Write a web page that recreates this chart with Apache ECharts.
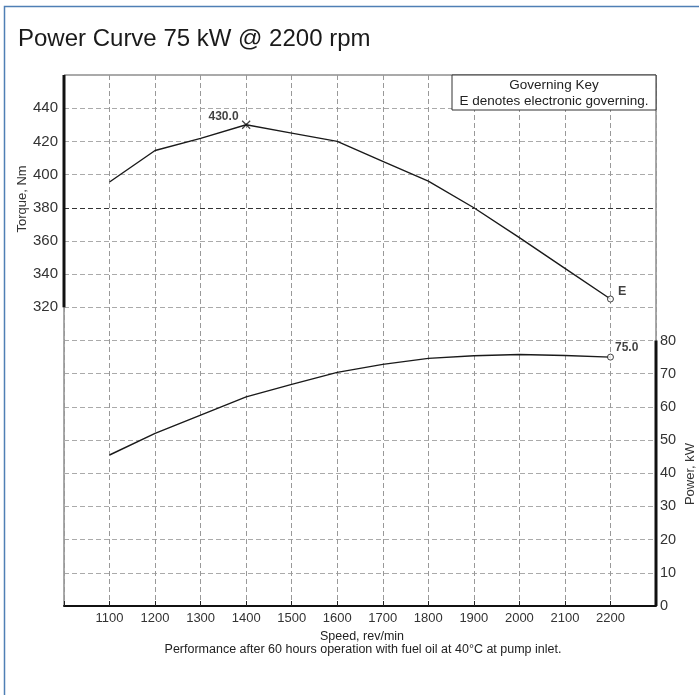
<!DOCTYPE html>
<html>
<head>
<meta charset="utf-8">
<script src="https://cdn.jsdelivr.net/npm/echarts@6/dist/echarts.min.js"></script>
<style>
html,body{margin:0;padding:0;background:#fff;}
#chart{width:699px;height:695px;}
</style>
</head>
<body>
<div id="chart"></div>
<script>
// ---- data ----
const speed  = [1100, 1200, 1300, 1400, 1500, 1600, 1700, 1800, 1900, 2000, 2100, 2200];
const torque = [395.5, 414.5, 421.8, 430.0, 425.0, 420.0, 408.0, 396.0, 380.0, 362.0, 343.5, 325.0];
const power  = [45.5, 52.0, 57.5, 63.0, 66.8, 70.4, 72.8, 74.6, 75.4, 75.8, 75.5, 75.0];
const speedTicks  = [1100, 1200, 1300, 1400, 1500, 1600, 1700, 1800, 1900, 2000, 2100, 2200];
const torqueTicks = [320, 340, 360, 380, 400, 420, 440];
const powerTicks  = [0, 10, 20, 30, 40, 50, 60, 70, 80];

const FONT = '"Liberation Sans", Arial, Helvetica, sans-serif';
const X_MIN = 1000, X_MAX = 2300;
const T_MIN = 140, T_MAX = 460;
const P_MIN = 0, P_MAX = 160;

const peakIdx = torque.indexOf(Math.max(...torque));
const lastIdx = speed.length - 1;

const chart = echarts.init(document.getElementById('chart'), null, {renderer: 'canvas'});
const gridDash = [5, 3];

chart.setOption({
  animation: false,
  backgroundColor: '#fff',
  textStyle: {fontFamily: FONT},
  grid: {left: 64, right: 43, top: 75, bottom: 89, show: true, borderColor: '#555', borderWidth: 1, backgroundColor: 'transparent'},
  xAxis: {
    type: 'value', min: X_MIN, max: X_MAX, interval: 100,
    axisLine: {show: true, onZero: false, lineStyle: {color: '#111', width: 2}},
    axisTick: {show: true, inside: true, length: 5, lineStyle: {color: '#222', width: 1}},
    axisLabel: {fontSize: 13, color: '#333', margin: 6, fontFamily: FONT,
      formatter: v => speedTicks.indexOf(v) >= 0 ? String(v) : ''},
    splitLine: {show: true, lineStyle: {color: '#999', type: gridDash, width: 1}}
  },
  yAxis: [
    {
      type: 'value', min: T_MIN, max: T_MAX, interval: 20, position: 'left',
      axisLine: {show: false}, axisTick: {show: false},
      axisLabel: {fontSize: 15, color: '#333', margin: 6, fontFamily: FONT,
        formatter: v => torqueTicks.indexOf(v) >= 0 ? String(v) : ''},
      splitLine: {show: true, lineStyle: {color: '#aaa', type: gridDash, width: 1}}
    },
    {
      type: 'value', min: P_MIN, max: P_MAX, interval: 10, position: 'right',
      axisLine: {show: false}, axisTick: {show: false},
      axisLabel: {fontSize: 14.5, color: '#333', margin: 4, fontFamily: FONT,
        formatter: v => powerTicks.indexOf(v) >= 0 ? String(v) : ''},
      splitLine: {show: false}
    }
  ],
  series: [
    {
      type: 'line', yAxisIndex: 0, symbol: 'none', silent: true, z: 3,
      data: speed.map((s, i) => [s, torque[i]]),
      lineStyle: {color: '#1a1a1a', width: 1.4},
      markLine: {
        silent: true, symbol: 'none', label: {show: false},
        lineStyle: {color: '#333', type: gridDash, width: 1},
        data: [{yAxis: torqueTicks[3]}]
      }
    },
    {
      type: 'line', yAxisIndex: 1, symbol: 'none', silent: true, z: 3,
      data: speed.map((s, i) => [s, power[i]]),
      lineStyle: {color: '#1a1a1a', width: 1.4}
    },
    // thick axis segments
    {
      type: 'line', yAxisIndex: 0, symbol: 'none', silent: true, clip: false, z: 5,
      data: [[X_MIN, torqueTicks[0]], [X_MIN, T_MAX]],
      lineStyle: {color: '#111', width: 3}
    },
    {
      type: 'line', yAxisIndex: 1, symbol: 'none', silent: true, clip: false, z: 5,
      data: [[X_MAX, powerTicks[0]], [X_MAX, powerTicks[powerTicks.length - 1]]],
      lineStyle: {color: '#111', width: 3}
    },
    // peak torque marker
    {
      type: 'scatter', yAxisIndex: 0, silent: true, z: 6,
      symbol: 'path://M0 0L10 10M10 0L0 10', symbolSize: 8,
      itemStyle: {color: 'transparent', borderColor: '#111', borderWidth: 1.2},
      data: [[speed[peakIdx], torque[peakIdx]]],
      label: {show: true, position: 'left', distance: 3, offset: [0, -8],
        formatter: p => p.value[1].toFixed(1), fontSize: 12, fontWeight: 'bold', color: '#111', fontFamily: FONT}
    },
    // rated torque marker
    {
      type: 'scatter', yAxisIndex: 0, silent: true, z: 6,
      symbol: 'circle', symbolSize: 6,
      itemStyle: {color: '#fff', borderColor: '#111', borderWidth: 1},
      data: [[speed[lastIdx], torque[lastIdx]]],
      label: {show: true, position: 'right', distance: 4, offset: [0, -7],
        formatter: 'E', fontSize: 12.5, fontWeight: 'bold', color: '#111', fontFamily: FONT}
    },
    // rated power marker
    {
      type: 'scatter', yAxisIndex: 1, silent: true, z: 6,
      symbol: 'circle', symbolSize: 6,
      itemStyle: {color: '#fff', borderColor: '#111', borderWidth: 1},
      data: [[speed[lastIdx], power[lastIdx]]],
      label: {show: true, position: 'right', distance: 1, offset: [0, -9],
        formatter: p => p.value[1].toFixed(1), fontSize: 12, fontWeight: 'bold', color: '#111', fontFamily: FONT}
    }
  ],
  graphic: [
    {type: 'rect', silent: true, z: 0, shape: {x: 4.5, y: 6.5, width: 720, height: 720},
      style: {fill: 'transparent', stroke: '#4f7fb5', lineWidth: 1.5}},
    {type: 'text', silent: true, left: 18, top: 27,
      style: {text: 'Power Curve 75 kW @ 2200 rpm', font: '24px ' + FONT, fill: '#1a1a1a'}},
    {type: 'rect', silent: true, z: 10, shape: {x: 452, y: 75, width: 204, height: 35},
      style: {fill: '#fff', stroke: '#333', lineWidth: 1}},
    {type: 'text', silent: true, z: 11, x: 554, y: 85,
      style: {text: 'Governing Key', font: '13.5px ' + FONT, fill: '#222', textAlign: 'center', textVerticalAlign: 'middle'}},
    {type: 'text', silent: true, z: 11, x: 554, y: 101,
      style: {text: 'E denotes electronic governing.', font: '13.5px ' + FONT, fill: '#222', textAlign: 'center', textVerticalAlign: 'middle'}},
    {type: 'text', silent: true, x: 22, y: 199, rotation: Math.PI / 2,
      style: {text: 'Torque, Nm', font: '13px ' + FONT, fill: '#333', textAlign: 'center', textVerticalAlign: 'middle'}},
    {type: 'text', silent: true, x: 690, y: 474, rotation: Math.PI / 2,
      style: {text: 'Power, kW', font: '13px ' + FONT, fill: '#333', textAlign: 'center', textVerticalAlign: 'middle'}},
    {type: 'text', silent: true, x: 362, y: 637,
      style: {text: 'Speed, rev/min', font: '12.5px ' + FONT, fill: '#222', textAlign: 'center', textVerticalAlign: 'middle'}},
    {type: 'text', silent: true, x: 363, y: 650,
      style: {text: 'Performance after 60 hours operation with fuel oil at 40°C at pump inlet.', font: '12.5px ' + FONT, fill: '#222', textAlign: 'center', textVerticalAlign: 'middle'}}
  ]
});
</script>
</body>
</html>
